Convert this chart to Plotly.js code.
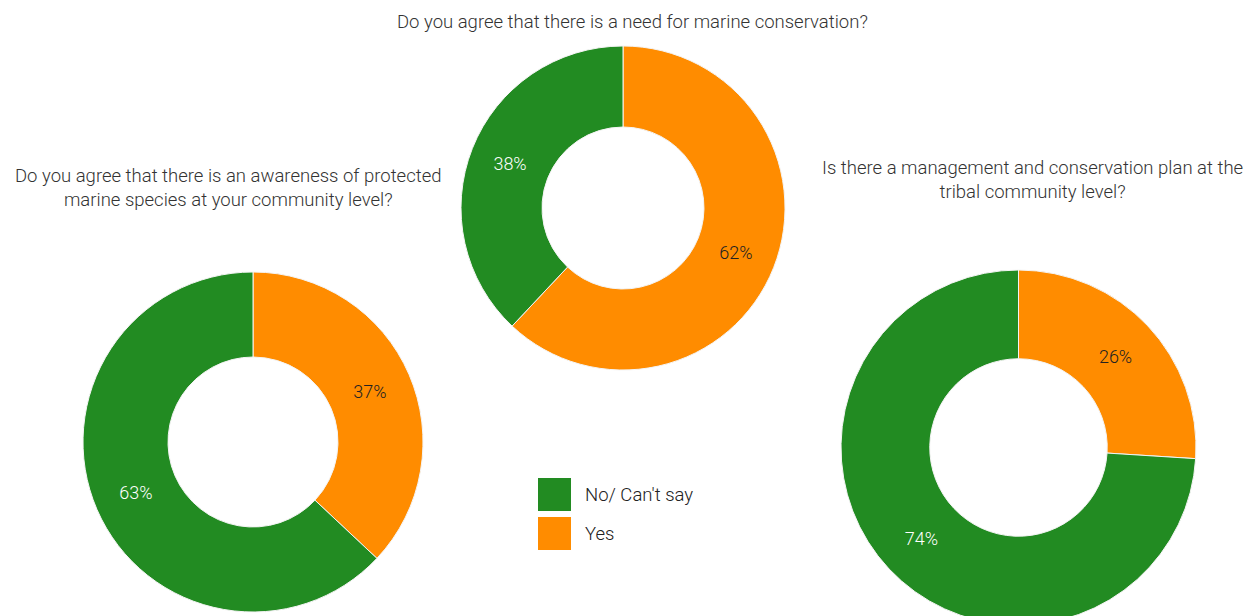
<!DOCTYPE html>
<html>
<head>
<meta charset="utf-8">
<script src="https://cdn.plot.ly/plotly-3.0.1.min.js"></script>
<style>
  html, body { margin: 0; padding: 0; overflow: hidden; background: #fff; }
  #chart { width: 1250px; height: 640px; }
</style>
</head>
<body>
<div id="chart"></div>
<script>
// Data
const categories = ["No/ Can't say", "Yes"];
const questions = [
  "Do you agree that there is a need for marine conservation?",
  "Do you agree that there is an awareness of protected<br>marine species at your community level?",
  "Is there a management and conservation plan at the<br>tribal community level?"
];
const needForConservation = [38, 62];
const awarenessProtected = [63, 37];
const managementPlan = [74, 26];

const colors = ["#228B22", "#FF8C00"];
const labelColors = ["#ffffff", "#222222"];
const FONT = "Roboto, 'Noto Sans', sans-serif";

const W = 1250, H = 640;
const px = v => v / W;
const py = v => 1 - v / H;
const rev = a => a.slice().reverse();

function donut(values, xr, yr) {
  // "Yes" drawn first, clockwise from 12 o'clock
  return {
    type: "pie",
    labels: rev(categories),
    values: rev(values),
    sort: false,
    direction: "clockwise",
    rotation: 0,
    hole: 0.5,
    textinfo: "percent",
    textposition: "inside",
    insidetextorientation: "horizontal",
    textfont: { family: FONT, size: 18, color: rev(labelColors), weight: 300 },
    marker: { colors: rev(colors), line: { color: "#f4f4f4", width: 1 } },
    domain: { x: [px(xr[0]), px(xr[1])], y: [py(yr[1]), py(yr[0])] },
    hoverinfo: "none",
    showlegend: false
  };
}

const data = [
  donut(needForConservation, [461, 785], [46, 370]),
  donut(awarenessProtected, [83, 423], [272, 612]),
  donut(managementPlan, [841, 1196], [270, 625])
];

const titleFont = { family: FONT, size: 18.5, color: "#333333", weight: 300 };
const annotations = [
  { text: questions[0], x: px(632), y: py(22), xanchor: "center", yanchor: "middle" },
  { text: questions[1], x: px(228), y: py(188), xanchor: "center", yanchor: "middle" },
  { text: questions[2], x: px(1032), y: py(180), xanchor: "center", yanchor: "middle" }
].map(a => Object.assign(a, { xref: "paper", yref: "paper", showarrow: false, font: titleFont, align: "center" }));

// Legend (drawn manually for large swatches)
const legendTop = [478, 517];
const shapes = [];
categories.forEach((c, i) => {
  shapes.push({
    type: "rect", xref: "paper", yref: "paper",
    x0: px(538), x1: px(571), y0: py(legendTop[i] + 33), y1: py(legendTop[i]),
    fillcolor: colors[i], line: { width: 0 }
  });
  annotations.push({
    text: c, xref: "paper", yref: "paper", showarrow: false,
    x: px(583), y: py(legendTop[i] + 16.5), xanchor: "left", yanchor: "middle",
    font: { family: FONT, size: 18.5, color: "#222222", weight: 300 }
  });
});

const layout = {
  width: W, height: H,
  margin: { l: 0, r: 0, t: 0, b: 0 },
  paper_bgcolor: "#ffffff",
  showlegend: false,
  annotations: annotations,
  shapes: shapes
};

Plotly.newPlot("chart", data, layout, { displayModeBar: false, staticPlot: true });
</script>
</body>
</html>
